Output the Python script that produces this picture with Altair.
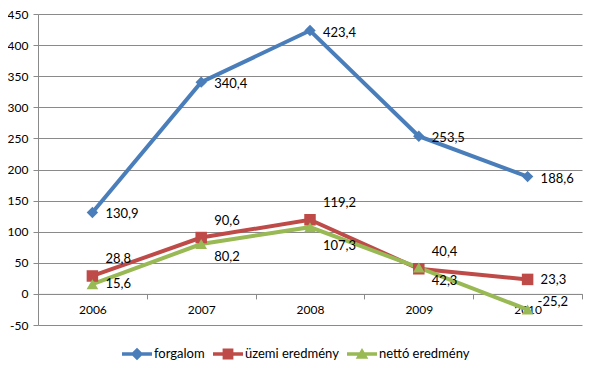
import altair as alt
import pandas as pd

years = ["2006", "2007", "2008", "2009", "2010"]
series_names = ["forgalom", "üzemi eredmény", "nettó eredmény"]
forgalom = [130.9, 340.4, 423.4, 253.5, 188.6]
uzemi = [28.8, 90.6, 119.2, 40.4, 23.3]
netto = [15.6, 80.2, 107.3, 42.3, -25.2]
colors = ["#4A7EBB", "#BE4B48", "#98B954"]
shapes = ["diamond", "square", "triangle-up"]

rows = []
for name, vals in zip(series_names, [forgalom, uzemi, netto]):
    for y, v in zip(years, vals):
        rows.append({"year": y, "series": name, "value": v})
df = pd.DataFrame(rows)

FONT = "Lato"
H = 311

x_enc = alt.X("year:N", bandPosition=0.5,
              scale=alt.Scale(type="band", paddingInner=0, paddingOuter=0),
              axis=alt.Axis(title=None, labelAngle=0, offset=-H / 10, tickBand="extent",
                            tickSize=5, labelPadding=6, domainColor="#8a8a8a",
                            tickColor="#8a8a8a", grid=False))
y_enc = alt.Y("value:Q",
              scale=alt.Scale(domain=[-50, 450], nice=False, zero=False),
              axis=alt.Axis(title=None, values=list(range(-50, 451, 50)), grid=True,
                            gridColor="#8a8a8a", domainColor="#8a8a8a",
                            tickColor="#8a8a8a", tickSize=5, labelPadding=5,
                            labelExpr="replace(datum.label, '\u2212', '-')"))


def color_scale():
    return alt.Scale(domain=series_names, range=colors)


legend_paths = [
    "M-1,-0.12L1,-0.12L1,0.12L-1,0.12Z M0,-0.42L0.42,0L0,0.42L-0.42,0Z",
    "M-1,-0.12L1,-0.12L1,0.12L-1,0.12Z M-0.36,-0.36L0.36,-0.36L0.36,0.36L-0.36,0.36Z",
    "M-1,-0.12L1,-0.12L1,0.12L-1,0.12Z M0,-0.4L0.42,0.32L-0.42,0.32Z",
]

base = alt.Chart(df)

lines = base.mark_line(strokeWidth=4).encode(
    x=x_enc, y=y_enc,
    color=alt.Color("series:N", scale=color_scale(), legend=None),
    detail="series:N",
)

points = base.mark_point(filled=True, opacity=1).encode(
    x=x_enc, y=y_enc,
    color=alt.Color("series:N", scale=color_scale(), legend=None),
    shape=alt.Shape("series:N", scale=alt.Scale(domain=series_names, range=shapes), legend=None),
    size=alt.Size("series:N", scale=alt.Scale(domain=series_names, range=[130, 135, 165]), legend=None),
)

leg = alt.Legend(title=None, orient="none", direction="horizontal",
                 legendX=84, legendY=325, symbolSize=900,
                 symbolStrokeWidth=0, labelOffset=2, columnPadding=8,
                 labelFont=FONT, labelFontSize=13, labelColor="#000000")

legend_layer = base.transform_filter("false").transform_calculate(
    entry="datum.series"
).mark_point(filled=True, opacity=1).encode(
    x=x_enc, y=y_enc,
    color=alt.Color("entry:N", scale=color_scale(), legend=leg),
    shape=alt.Shape("entry:N", scale=alt.Scale(domain=series_names, range=legend_paths), legend=leg),
)


def label_layer(series, yrs, dx, dy):
    return base.transform_filter(
        alt.FieldEqualPredicate(field="series", equal=series)
    ).transform_filter(
        alt.FieldOneOfPredicate(field="year", oneOf=yrs)
    ).transform_calculate(
        label="replace(replace(format(datum.value, '.1f'), '.', ','), '\u2212', '-')"
    ).mark_text(align="left", baseline="middle", dx=dx, dy=dy, font=FONT,
                fontSize=13, color="#000000").encode(x=x_enc, y=y_enc, text="label:N")


labels = [
    label_layer("forgalom", years, 13, 2),
    label_layer("üzemi eredmény", years[:4], 13, -17),
    label_layer("üzemi eredmény", years[4:], 13, 1),
    label_layer("nettó eredmény", years[:1], 13, 0),
    label_layer("nettó eredmény", ["2007", "2009"], 13, 13),
    label_layer("nettó eredmény", ["2008"], 13, 19),
    label_layer("nettó eredmény", years[4:], 10, -8),
]

chart = alt.layer(lines, points, legend_layer, *labels).resolve_scale(
    shape="independent", color="independent", size="independent"
).properties(
    width=544, height=H,
    autosize=alt.AutoSizeParams(type="none"),
    padding={"left": 30, "top": 6, "right": 2, "bottom": 44},
).configure_view(stroke=None).configure_axis(
    labelFont=FONT, labelFontSize=12, labelColor="#000000"
)

chart.save("out.html", embed_options={"renderer": "svg", "actions": False})
